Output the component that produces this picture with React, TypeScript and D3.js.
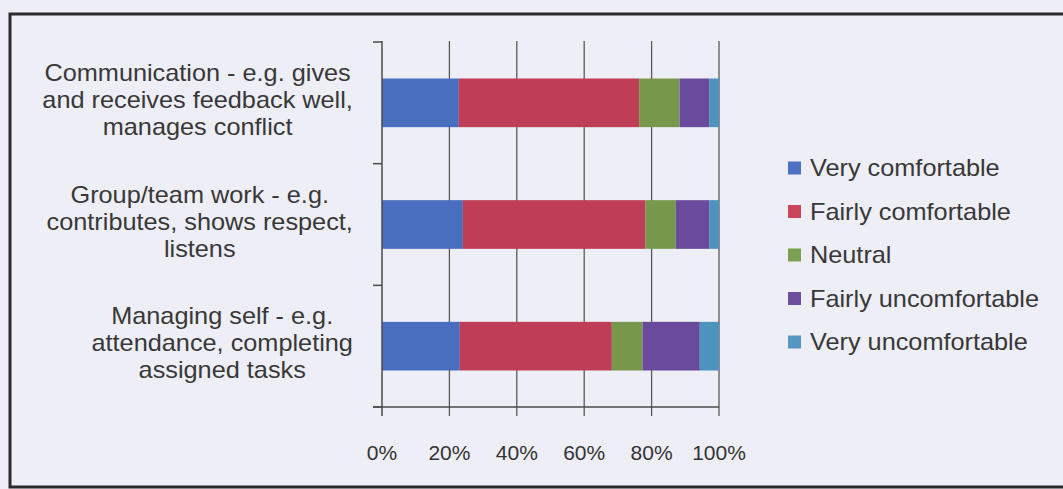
import { useEffect, useRef } from "react";
import * as d3 from "d3";

// survey answers per skill area (percent of respondents)
const categories = ["Communication", "Group/team work", "Managing self"];
const categoryLines = [
  ["Communication - e.g. gives", "and receives feedback well,", "manages conflict"],
  ["Group/team work - e.g.", "contributes, shows respect,", "listens"],
  ["Managing self - e.g.", "attendance, completing", "assigned tasks"],
];
const seriesNames = [
  "Very comfortable",
  "Fairly comfortable",
  "Neutral",
  "Fairly uncomfortable",
  "Very uncomfortable",
];
const veryComfortable = [22.8, 24.0, 23.1];
const fairlyComfortable = [53.5, 54.2, 45.1];
const neutral = [12.0, 9.0, 9.1];
const fairlyUncomfortable = [8.9, 10.0, 17.0];
const veryUncomfortable = [2.8, 2.8, 5.7];
const tickValues = [0, 0.2, 0.4, 0.6, 0.8, 1];

const barColors = ["#4a6ebf", "#bf3d56", "#77984a", "#6a4a9c", "#4c93bd"];
const keyColors = ["#4d72c4", "#c9455a", "#7ba052", "#6d4fa0", "#5597c2"];

const W = 1063;
const H = 489;

const App = () => {
  const svgRef = useRef<SVGSVGElement>(null);

  useEffect(() => {
    const svg = d3.select(svgRef.current);
    svg.selectAll("*").remove();

    svg.append("rect").attr("width", W).attr("height", H).attr("fill", "#eeeef7");

    // chart frame
    svg
      .append("rect")
      .attr("x", 10)
      .attr("y", 14)
      .attr("width", W + 20)
      .attr("height", 473)
      .attr("fill", "none")
      .attr("stroke", "#2b2b2b")
      .attr("stroke-width", 3);

    const x = d3.scaleLinear().domain([0, 1]).range([382, 719]);
    const y = d3
      .scaleBand<string>()
      .domain(categories)
      .range([42, 407])
      .paddingInner(0.6)
      .paddingOuter(0.3);

    const rows = categories.map((c, i) => ({
      cat: c,
      [seriesNames[0]]: veryComfortable[i] / 100,
      [seriesNames[1]]: fairlyComfortable[i] / 100,
      [seriesNames[2]]: neutral[i] / 100,
      [seriesNames[3]]: fairlyUncomfortable[i] / 100,
      [seriesNames[4]]: veryUncomfortable[i] / 100,
    }));
    const stacked = d3.stack<any>().keys(seriesNames)(rows);

    const g = svg.append("g");

    // gridlines
    g.selectAll("line.grid")
      .data(tickValues.slice(1))
      .join("line")
      .attr("x1", (d) => x(d))
      .attr("x2", (d) => x(d))
      .attr("y1", 41)
      .attr("y2", 416)
      .attr("stroke", "#5a5a5a")
      .attr("stroke-width", 1.3);

    // bars
    stacked.forEach((layer, si) => {
      g.selectAll(null)
        .data(layer)
        .join("rect")
        .attr("x", (d) => x(d[0]))
        .attr("width", (d) => x(d[1]) - x(d[0]))
        .attr("y", (d) => y(d.data.cat)!)
        .attr("height", y.bandwidth())
        .attr("fill", barColors[si]);
    });

    // value axis
    g.append("line")
      .attr("x1", 373)
      .attr("x2", x(1))
      .attr("y1", 407)
      .attr("y2", 407)
      .attr("stroke", "#4a4a4a")
      .attr("stroke-width", 1.5);
    g.append("line")
      .attr("x1", x(0))
      .attr("x2", x(0))
      .attr("y1", 41)
      .attr("y2", 416)
      .attr("stroke", "#4a4a4a")
      .attr("stroke-width", 1.5);

    // category boundary ticks
    const bounds = [0, 1, 2, 3].map((k) => 42 + k * y.step());
    g.selectAll("line.ctick")
      .data(bounds)
      .join("line")
      .attr("x1", 373)
      .attr("x2", x(0))
      .attr("y1", (d) => d)
      .attr("y2", (d) => d)
      .attr("stroke", "#4a4a4a")
      .attr("stroke-width", 1.5);

    // tick labels
    g.selectAll("text.tick")
      .data(tickValues)
      .join("text")
      .attr("x", (d) => x(d))
      .attr("y", 452)
      .attr("text-anchor", "middle")
      .attr("dominant-baseline", "central")
      .attr("font-family", "Liberation Sans, Arial, sans-serif")
      .attr("font-size", 21)
      .attr("fill", "#333")
      .text((d) => d3.format(".0%")(d));

    // category labels, wrapped and centred on their widest line
    const sx = 1.1;
    const labelRight = 353;
    const lineGap = 27;
    categoryLines.forEach((lines, ci) => {
      const cy = y(categories[ci])! + y.bandwidth() / 2 - 3;
      const texts = lines.map((ln, li) =>
        g
          .append("text")
          .attr("text-anchor", "middle")
          .attr("dominant-baseline", "central")
          .attr("font-family", "Liberation Sans, Arial, sans-serif")
          .attr("font-size", 23)
          .attr("fill", "#383838")
          .attr("data-y", cy + (li - 1) * lineGap)
          .text(ln)
      );
      const maxW = d3.max(texts, (t) => (t.node() as SVGTextElement).getComputedTextLength())! * sx;
      const cx = labelRight - maxW / 2;
      texts.forEach((t) =>
        t.attr("transform", `translate(${cx},${t.attr("data-y")}) scale(${sx},1)`)
      );
    });

    // legend
    const legend = svg.append("g");
    seriesNames.forEach((name, i) => {
      const ly = 168 + i * 43.5;
      legend
        .append("rect")
        .attr("x", 788)
        .attr("y", ly - 6.5)
        .attr("width", 13)
        .attr("height", 13)
        .attr("fill", keyColors[i]);
      legend
        .append("text")
        .attr("transform", `translate(810,${ly}) scale(${sx},1)`)
        .attr("dominant-baseline", "central")
        .attr("font-family", "Liberation Sans, Arial, sans-serif")
        .attr("font-size", 23)
        .attr("fill", "#383838")
        .text(name);
    });
  }, []);

  return (
    <div style={{ position: "fixed", left: 0, top: 0 }}>
      <svg ref={svgRef} width={W} height={H} style={{ display: "block" }} />
    </div>
  );
};

export default App;
